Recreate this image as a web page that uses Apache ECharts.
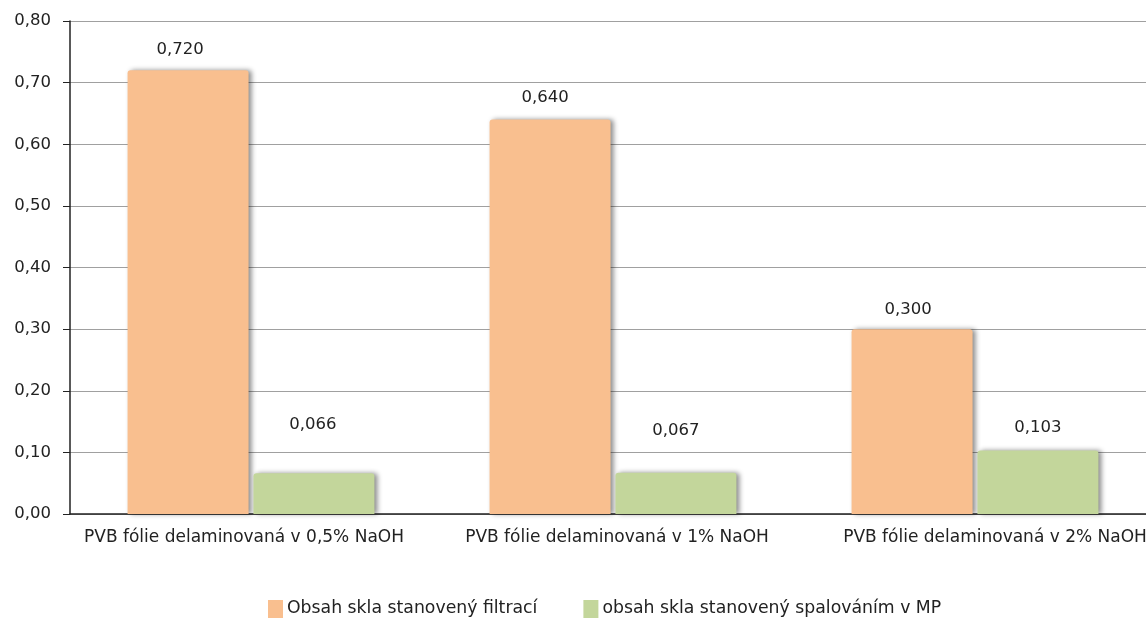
<!DOCTYPE html>
<html><head><meta charset="utf-8">
<script src="https://cdn.jsdelivr.net/npm/echarts@6/dist/echarts.min.js"></script>
<style>html,body{margin:0;padding:0;background:#fff}#c{width:1146px;height:621px}</style>
</head><body><div id="c"></div>
<script>
const categories = ['PVB fólie delaminovaná v 0,5% NaOH', 'PVB fólie delaminovaná v 1% NaOH', 'PVB fólie delaminovaná v 2% NaOH'];
const seriesNames = ['Obsah skla stanovený filtrací', 'obsah skla stanovený spalováním v MP'];
const filtrace = [0.720, 0.640, 0.300];
const spalovani = [0.066, 0.067, 0.103];
const yTicks = [0, 0.1, 0.2, 0.3, 0.4, 0.5, 0.6, 0.7, 0.8];

// layout tweaks (not data)
const labelDist = [[12, 13, 11], [40, 33, 14]];
const labelDx = [[-8, -5, -4], [-1, 0, 0]];
const catLabelDx = [-7, 4, 20];
const colors = ['#F9BF8F', '#C3D69B'];
const font = 'DejaVu Sans';
const fs = 16.5;

function mk(name, vals, idx) {
  return {
    name, type: 'bar', barWidth: 121, barGap: '4%',
    itemStyle: { color: colors[idx], borderRadius: [3, 3, 0, 0], shadowColor: 'rgba(0,0,0,0.45)', shadowBlur: 5, shadowOffsetX: 3, shadowOffsetY: 0 },
    data: vals.map((v, i) => ({ value: v, label: { distance: labelDist[idx][i], offset: [labelDx[idx][i], 0] } })),
    label: { show: true, position: 'top', color: '#222', fontFamily: font, fontSize: fs,
      formatter: p => p.value.toFixed(3).replace('.', ',') }
  };
}

const rich = {};
catLabelDx.forEach((d, i) => {
  rich['c' + i] = { color: '#222', fontFamily: font, fontSize: fs + 0.5,
    padding: d >= 0 ? [0, 0, 0, 2 * d] : [0, -2 * d, 0, 0] };
});

const chart = echarts.init(document.getElementById('c'));
chart.setOption({
  animation: false,
  legend: { top: 600, left: 268, itemWidth: 15, itemHeight: 18, itemGap: 46, padding: 0,
    icon: 'rect', textStyle: { fontFamily: font, fontSize: 17.3, color: '#222', padding: [0, 0, 0, -1] },
    data: seriesNames },
  grid: { left: 70, top: 21, right: -10, bottom: 107, outerBoundsMode: 'none', containLabel: false },
  xAxis: { type: 'category', data: categories,
    axisLine: { lineStyle: { color: '#222', width: 1.5 } }, axisTick: { show: false },
    axisLabel: { color: '#222', fontFamily: font, fontSize: fs + 0.5, margin: 15, interval: 0,
      formatter: (v, i) => '{c' + i + '|' + v + '}', rich } },
  yAxis: { type: 'value', min: 0, max: 0.8, interval: 0.1,
    axisLine: { show: true, lineStyle: { color: '#222', width: 1.5 } },
    axisTick: { show: true, length: 7, lineStyle: { color: '#222' } },
    splitLine: { lineStyle: { color: '#a0a0a0', width: 1.2 } },
    axisLabel: { color: '#222', fontFamily: font, fontSize: fs, margin: 19,
      formatter: v => { const t = yTicks.find(x => Math.abs(x - v) < 1e-9); return (t !== undefined ? t : v).toFixed(2).replace('.', ','); } } },
  series: [mk(seriesNames[0], filtrace, 0), mk(seriesNames[1], spalovani, 1)]
});
</script></body></html>
